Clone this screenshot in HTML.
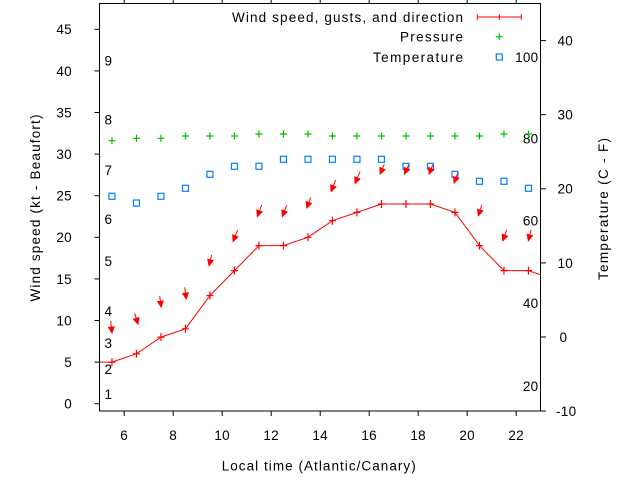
<!DOCTYPE html>
<html><head><meta charset="utf-8"><style>
html,body{margin:0;padding:0;background:#fff;}
svg{display:block;}
text{font-family:"Liberation Sans",Arial,sans-serif;font-size:13.5px;fill:#000;}
.n{letter-spacing:0.3px;}
</style></head><body>
<svg width="640" height="480" viewBox="0 0 640 480" xmlns="http://www.w3.org/2000/svg">
<defs>
<marker id="ah" markerUnits="userSpaceOnUse" markerWidth="12" markerHeight="12" refX="0" refY="0" viewBox="-7 -4 9 8" orient="auto" overflow="visible">
<path d="M0.6,0 L-5,-2.7 L-5,2.7 Z" fill="#f00"/>
</marker>
</defs>
<rect width="640" height="480" fill="#fff"/>
<!-- border -->
<rect x="99.5" y="3.5" width="441" height="407.5" fill="none" stroke="#000" stroke-width="1"/>
<!-- left ticks -->
<g stroke="#000" stroke-width="1">
<line x1="94.5" x2="99.5" y1="403.7" y2="403.7"/>
<line x1="94.5" x2="99.5" y1="362.1" y2="362.1"/>
<line x1="94.5" x2="99.5" y1="320.5" y2="320.5"/>
<line x1="94.5" x2="99.5" y1="278.9" y2="278.9"/>
<line x1="94.5" x2="99.5" y1="237.3" y2="237.3"/>
<line x1="94.5" x2="99.5" y1="195.7" y2="195.7"/>
<line x1="94.5" x2="99.5" y1="154.1" y2="154.1"/>
<line x1="94.5" x2="99.5" y1="112.5" y2="112.5"/>
<line x1="94.5" x2="99.5" y1="70.9" y2="70.9"/>
<line x1="94.5" x2="99.5" y1="29.3" y2="29.3"/>
<!-- right ticks -->
<line x1="540.5" x2="546" y1="411" y2="411"/>
<line x1="540.5" x2="546" y1="337" y2="337"/>
<line x1="540.5" x2="546" y1="262.9" y2="262.9"/>
<line x1="540.5" x2="546" y1="188.8" y2="188.8"/>
<line x1="540.5" x2="546" y1="114.7" y2="114.7"/>
<line x1="540.5" x2="546" y1="40.6" y2="40.6"/>
<!-- bottom ticks -->
<line x1="124.2" x2="124.2" y1="411" y2="416"/>
<line x1="173.2" x2="173.2" y1="411" y2="416"/>
<line x1="222.2" x2="222.2" y1="411" y2="416"/>
<line x1="271.2" x2="271.2" y1="411" y2="416"/>
<line x1="320.2" x2="320.2" y1="411" y2="416"/>
<line x1="369.2" x2="369.2" y1="411" y2="416"/>
<line x1="418.2" x2="418.2" y1="411" y2="416"/>
<line x1="467.2" x2="467.2" y1="411" y2="416"/>
<line x1="516.2" x2="516.2" y1="411" y2="416"/>
<!-- top ticks -->
<line x1="124.2" x2="124.2" y1="0" y2="3.5"/>
<line x1="173.2" x2="173.2" y1="0" y2="3.5"/>
<line x1="222.2" x2="222.2" y1="0" y2="3.5"/>
<line x1="271.2" x2="271.2" y1="0" y2="3.5"/>
<line x1="320.2" x2="320.2" y1="0" y2="3.5"/>
<line x1="369.2" x2="369.2" y1="0" y2="3.5"/>
<line x1="418.2" x2="418.2" y1="0" y2="3.5"/>
<line x1="467.2" x2="467.2" y1="0" y2="3.5"/>
<line x1="516.2" x2="516.2" y1="0" y2="3.5"/>
</g>
<!-- left tick labels -->
<g text-anchor="end" class="n">
<text x="72" y="408.6">0</text>
<text x="72" y="367">5</text>
<text x="72" y="325.4">10</text>
<text x="72" y="283.8">15</text>
<text x="72" y="242.2">20</text>
<text x="72" y="200.6">25</text>
<text x="72" y="159">30</text>
<text x="72" y="117.4">35</text>
<text x="72" y="75.8">40</text>
<text x="72" y="34.2">45</text>
</g>
<!-- right tick labels -->
<g class="n">
<text x="556" y="415.9">-10</text>
<text x="559.5" y="341.9">0</text>
<text x="557.5" y="267.8">10</text>
<text x="557.5" y="193.7">20</text>
<text x="557.5" y="119.6">30</text>
<text x="557.5" y="45.5">40</text>
</g>
<!-- bottom tick labels -->
<g text-anchor="middle" class="n">
<text x="124.2" y="439.9">6</text>
<text x="173.2" y="439.9">8</text>
<text x="222.2" y="439.9">10</text>
<text x="271.2" y="439.9">12</text>
<text x="320.2" y="439.9">14</text>
<text x="369.2" y="439.9">16</text>
<text x="418.2" y="439.9">18</text>
<text x="467.2" y="439.9">20</text>
<text x="516.2" y="439.9">22</text>
</g>
<!-- axis labels -->
<text x="221.7" y="470.4" textLength="194" lengthAdjust="spacing">Local time (Atlantic/Canary)</text>
<text transform="translate(39.9,208) rotate(-90)" text-anchor="middle" textLength="187" lengthAdjust="spacing">Wind speed (kt - Beaufort)</text>
<text transform="translate(608.2,209) rotate(-90)" text-anchor="middle" textLength="142" lengthAdjust="spacing">Temperature (C - F)</text>
<!-- Beaufort labels -->
<g>
<text x="104.5" y="399.2">1</text>
<text x="104.5" y="373.9">2</text>
<text x="104.5" y="348.2">3</text>
<text x="104.5" y="315.9">4</text>
<text x="104.5" y="265.9">5</text>
<text x="104.5" y="223.9">6</text>
<text x="104.5" y="174.9">7</text>
<text x="104.5" y="124.6">8</text>
<text x="104.5" y="65.6">9</text>
</g>
<!-- Fahrenheit labels -->
<g text-anchor="end" class="n">
<text x="538.5" y="61.9">100</text>
<text x="538.5" y="143.4">80</text>
<text x="538.5" y="225.6">60</text>
<text x="538.5" y="307.9">40</text>
<text x="538.5" y="390.9">20</text>
</g>
<!-- legend -->
<g text-anchor="end">
<text x="463" y="21.9" textLength="231" lengthAdjust="spacing">Wind speed, gusts, and direction</text>
<text x="463" y="41.6" textLength="63" lengthAdjust="spacing">Pressure</text>
<text x="463" y="61.9" textLength="90" lengthAdjust="spacing">Temperature</text>
</g>
<g stroke="#f00" stroke-width="1">
<line x1="477.3" x2="521.3" y1="17" y2="17"/>
<line x1="477.3" x2="477.3" y1="14" y2="20"/>
<line x1="499.3" x2="499.3" y1="14" y2="20"/>
<line x1="521.3" x2="521.3" y1="14" y2="20"/>
</g>
<g stroke="#00c000" stroke-width="1.2">
<line x1="495.8" x2="502.8" y1="36.7" y2="36.7"/>
<line x1="499.3" x2="499.3" y1="33.2" y2="40.2"/>
</g>
<rect x="496.3" y="54" width="6" height="6" fill="none" stroke="#0080ff" stroke-width="1.2"/>
<!-- pressure -->
<g stroke="#00c000" stroke-width="1.2" fill="none">
<path d="M108.45,140.7h7M111.95,137.2v7
M132.95,138.3h7M136.45,134.8v7
M157.45,138.3h7M160.95,134.8v7
M181.95,136h7M185.45,132.5v7
M206.45,136h7M209.95,132.5v7
M230.95,136h7M234.45,132.5v7
M255.45,134h7M258.95,130.5v7
M279.95,134h7M283.45,130.5v7
M304.45,134h7M307.95,130.5v7
M328.95,136h7M332.45,132.5v7
M353.45,136h7M356.95,132.5v7
M377.95,136h7M381.45,132.5v7
M402.45,136h7M405.95,132.5v7
M426.95,136h7M430.45,132.5v7
M451.45,136h7M454.95,132.5v7
M475.95,136h7M479.45,132.5v7
M500.45,134h7M503.95,130.5v7
M524.95,134h7M528.45,130.5v7"/>
</g>
<!-- temperature squares -->
<g stroke="#0080ff" stroke-width="1.2" fill="none">
<rect x="108.95" y="193.3" width="6" height="6"/>
<rect x="133.45" y="200" width="6" height="6"/>
<rect x="157.95" y="193.3" width="6" height="6"/>
<rect x="182.45" y="185.3" width="6" height="6"/>
<rect x="206.95" y="171.3" width="6" height="6"/>
<rect x="231.45" y="163.3" width="6" height="6"/>
<rect x="255.95" y="163.3" width="6" height="6"/>
<rect x="280.45" y="156.3" width="6" height="6"/>
<rect x="304.95" y="156.3" width="6" height="6"/>
<rect x="329.45" y="156.3" width="6" height="6"/>
<rect x="353.95" y="156.3" width="6" height="6"/>
<rect x="378.45" y="156.3" width="6" height="6"/>
<rect x="402.95" y="163.3" width="6" height="6"/>
<rect x="427.45" y="163.3" width="6" height="6"/>
<rect x="451.95" y="171.3" width="6" height="6"/>
<rect x="476.45" y="178.3" width="6" height="6"/>
<rect x="500.95" y="178.3" width="6" height="6"/>
<rect x="525.45" y="185.3" width="6" height="6"/>
</g>
<!-- wind line -->
<polyline fill="none" stroke="#f00" stroke-width="1" points="99.7,362.1 111.95,362.1 136.45,353.8 160.95,337.1 185.45,328.8 209.95,295.5 234.45,270.6 258.95,245.6 283.45,245.6 307.95,237.3 332.45,220.7 356.95,212.4 381.45,204 405.95,204 430.45,204 454.95,212.4 479.45,245.6 503.95,270.6 528.45,270.6 540.7,274.8"/>
<g stroke="#f00" stroke-width="1.2" fill="none">
<path d="M108.45,362.1h7M111.95,358.1v8
M132.95,353.8h7M136.45,349.8v8
M157.45,337.1h7M160.95,333.1v8
M181.95,328.8h7M185.45,324.8v8
M206.45,295.5h7M209.95,291.5v8
M230.95,270.6h7M234.45,266.6v8
M255.45,245.6h7M258.95,241.6v8
M279.95,245.6h7M283.45,241.6v8
M304.45,237.3h7M307.95,233.3v8
M328.95,220.7h7M332.45,216.7v8
M353.45,212.4h7M356.95,208.4v8
M377.95,204h7M381.45,200v8
M402.45,204h7M405.95,200v8
M426.95,204h7M430.45,200v8
M451.45,212.4h7M454.95,208.4v8
M475.95,245.6h7M479.45,241.6v8
M500.45,270.6h7M503.95,266.6v8
M524.95,270.6h7M528.45,266.6v8"/>
</g>
<!-- wind direction arrows -->
<g stroke="#f00" stroke-width="1" marker-end="url(#ah)">
<line x1="110.7" y1="321" x2="112" y2="333.3"/>
<line x1="134.7" y1="313.3" x2="138" y2="324.3"/>
<line x1="159.7" y1="296" x2="161.3" y2="307.3"/>
<line x1="184.7" y1="287.3" x2="186.3" y2="299.3"/>
<line x1="211.7" y1="255" x2="209" y2="266"/>
<line x1="237.7" y1="230" x2="233" y2="241.7"/>
<line x1="261.7" y1="205" x2="257.3" y2="216.7"/>
<line x1="286.7" y1="205" x2="282.3" y2="216.7"/>
<line x1="310.7" y1="197.3" x2="306.7" y2="208.3"/>
<line x1="335.7" y1="180" x2="331" y2="191.7"/>
<line x1="360" y1="171.7" x2="355" y2="183.7"/>
<line x1="384.3" y1="164.3" x2="380" y2="174.3"/>
<line x1="409" y1="164.3" x2="404.3" y2="174.3"/>
<line x1="433" y1="164.3" x2="429" y2="174.3"/>
<line x1="458" y1="172" x2="454" y2="183.3"/>
<line x1="481.7" y1="205" x2="478.3" y2="216"/>
<line x1="506.7" y1="230" x2="502.7" y2="241"/>
<line x1="531" y1="230" x2="528.3" y2="241"/>
</g>
</svg>
</body></html>
